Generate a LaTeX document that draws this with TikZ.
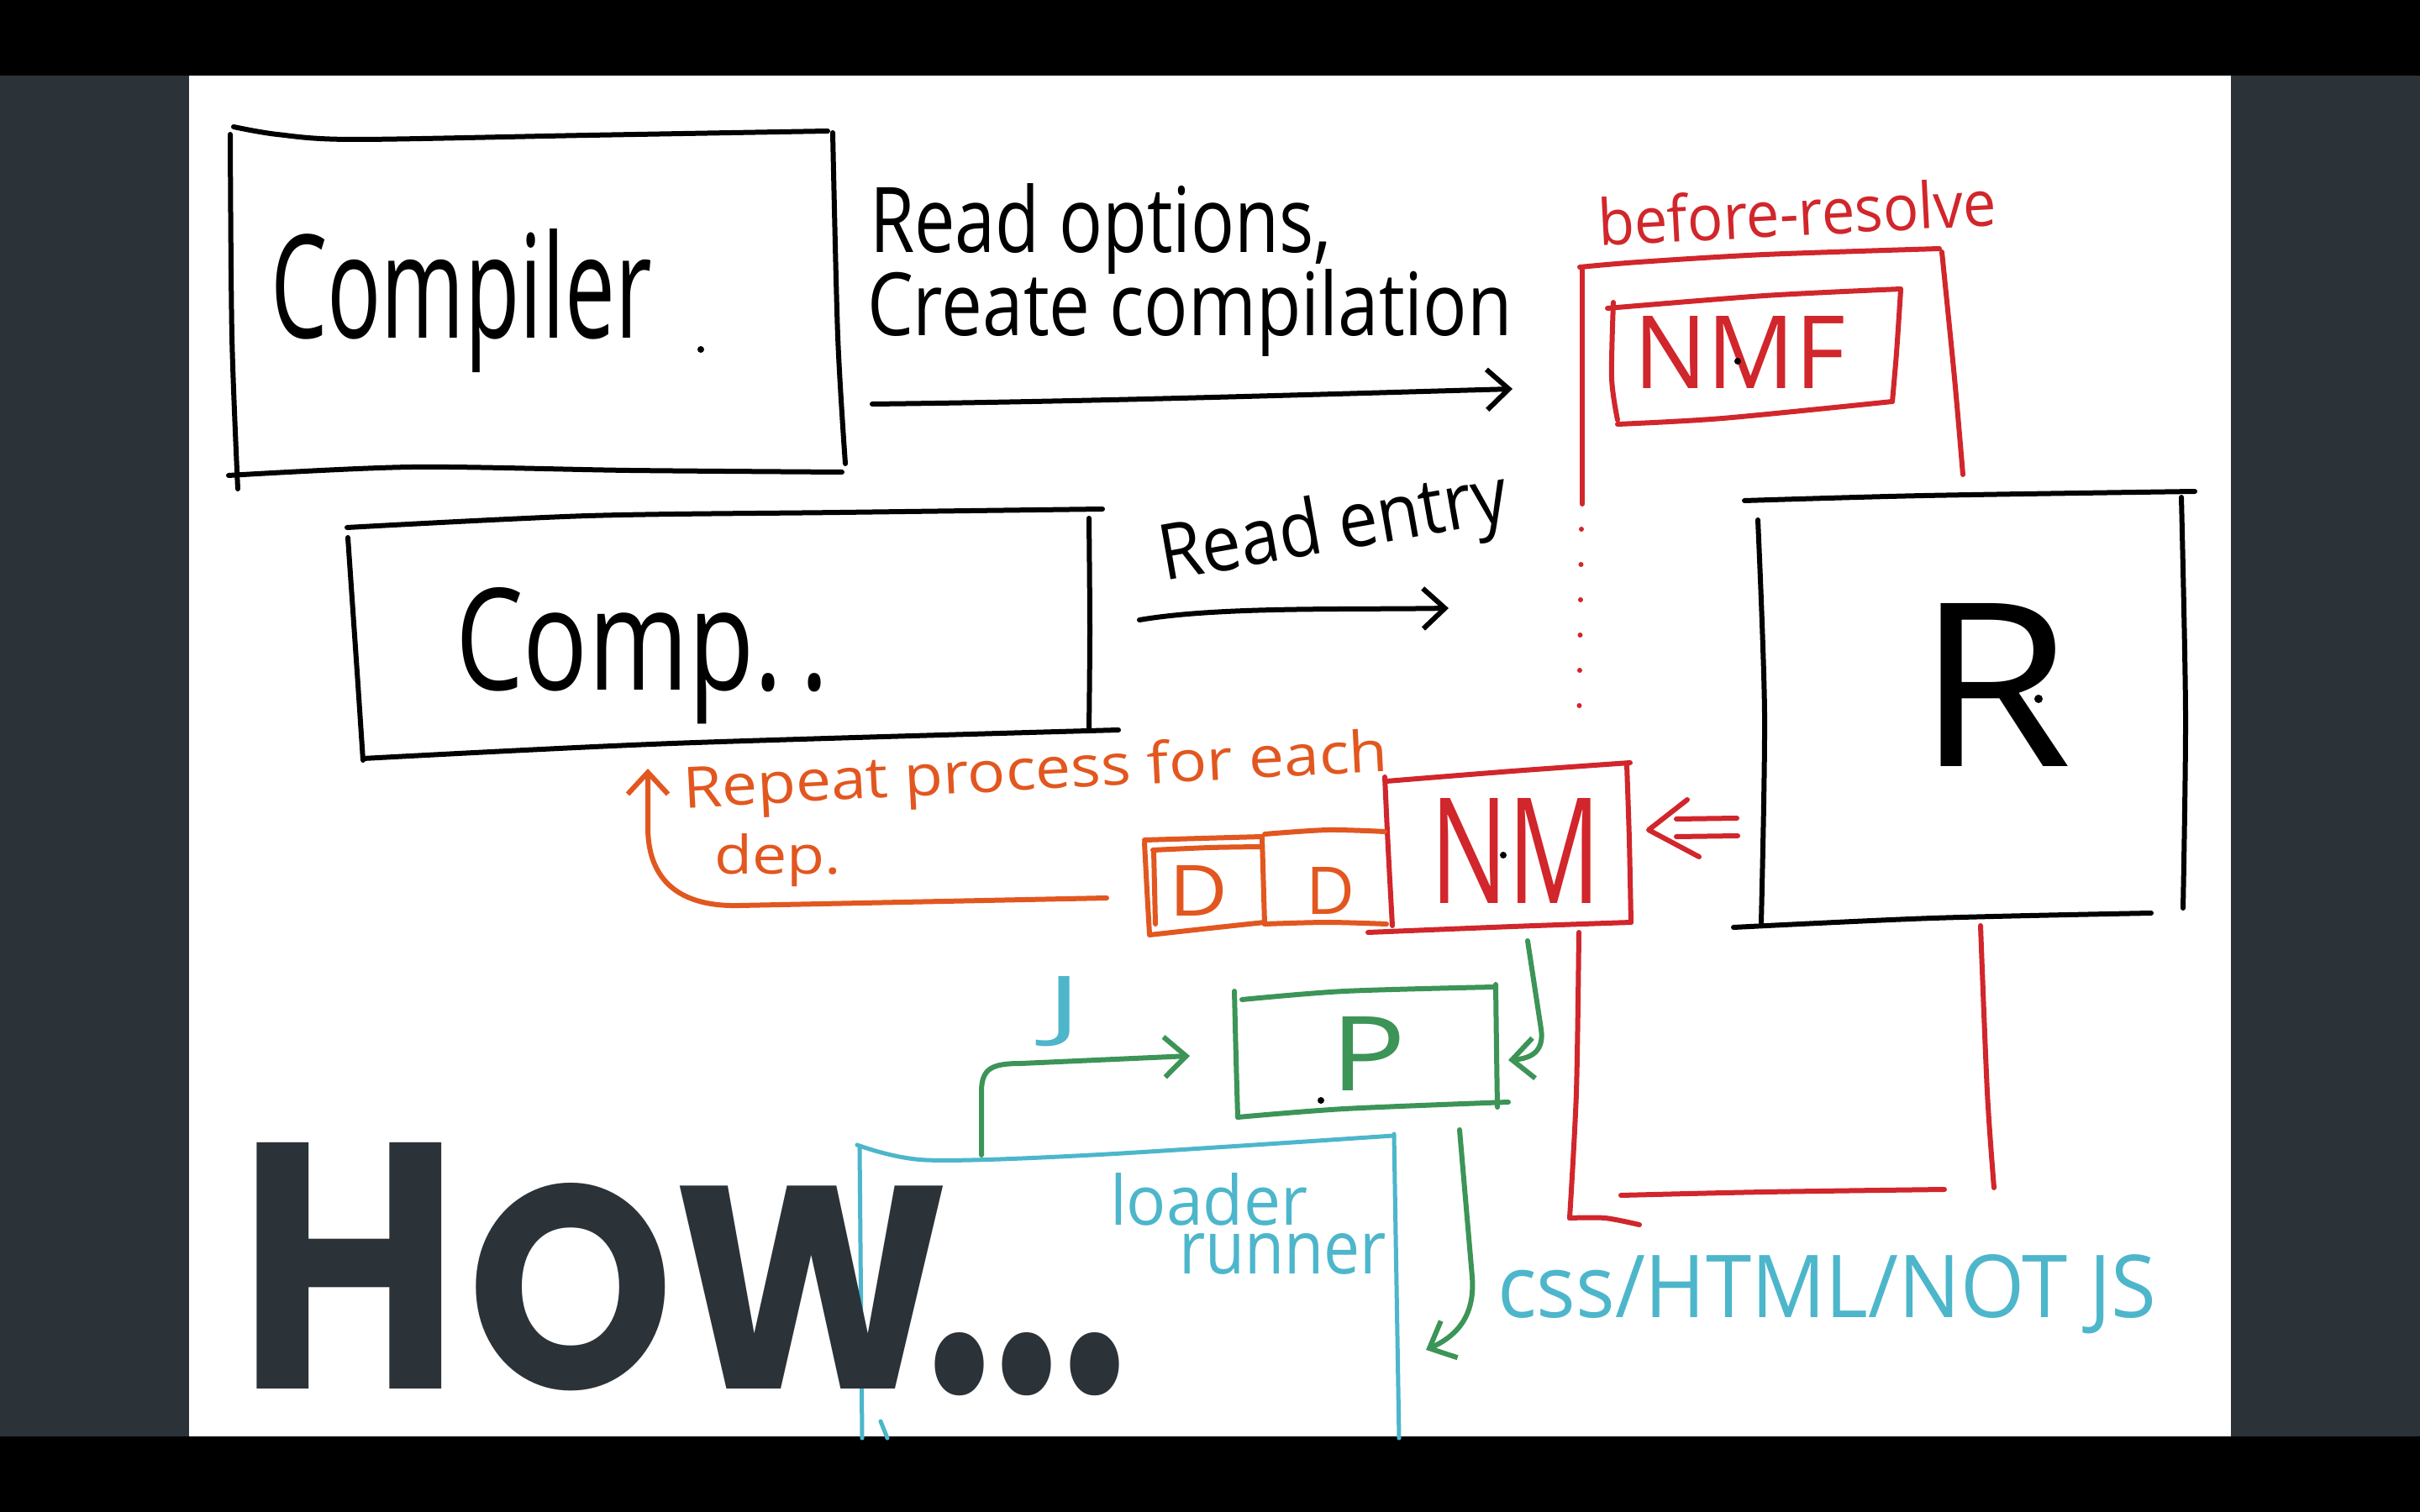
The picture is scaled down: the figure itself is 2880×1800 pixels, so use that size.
\documentclass[tikz,border=0pt]{standalone}
\usepackage{fontspec}
\setmainfont{Open Sans}
\newfontfamily\howfont{Poppins}
\usetikzlibrary{arrows.meta}
\newlength\pxu \setlength\pxu{0.1mm}
\newcommand\fitt[3]{\resizebox{#1\pxu}{#2\pxu}{#3}}
\definecolor{panel}{HTML}{2B3238}
\definecolor{redc}{HTML}{D1262B}
\definecolor{orc}{HTML}{E2571F}
\definecolor{grc}{HTML}{3C9457}
\definecolor{cyc}{HTML}{4DB6CB}
\begin{document}
\begin{tikzpicture}[x=0.1mm,y=-0.1mm,
  sk/.style={line width=0.6mm, line cap=round, line join=round},
  blk/.style={sk, draw=black},
  rd/.style={sk, draw=redc},
  og/.style={sk, draw=orc},
  gn/.style={sk, draw=grc},
  cy/.style={sk, draw=cyc, line width=0.5mm},
  barb/.style={-{Straight Barb[length=2.6mm,width=4.8mm]}},
  txt/.style={inner sep=0pt, outer sep=0pt, anchor=base west},
  pen/.style={fill=black}]
\useasboundingbox (0,0) rectangle (2880,1800);
% background
\fill[black] (0,0) rectangle (2880,1800);
\fill[panel] (0,90) rectangle (2880,1710);
\fill[white] (225,90) rectangle (2655,1710);

% ---------- Compiler box ----------
\draw[blk] plot[smooth] coordinates {(278,151) (330,160) (420,166) (700,161) (985,156)};
\draw[blk] plot[smooth] coordinates {(274,160) (276,400) (283,582)};
\draw[blk] plot[smooth] coordinates {(991,158) (997,400) (1006,552)};
\draw[blk] plot[smooth] coordinates {(272,566) (490,556) (750,560) (1002,562)};
\node[txt] (compiler) at (322,403) {\fitt{454}{130}{Compiler}};
\fill (834,416) circle (4);

% ---------- Read options ----------
\node[txt] (readopt) at (1035,301) {\fitt{550}{82}{Read options,}};
\node[txt] (createc) at (1032,400) {\fitt{768}{79}{Create compilation}};
\coordinate (a1s) at (1038,481);
\coordinate (a1e) at (1800,463);
\draw[blk,barb] (a1s) .. controls (1300,478) and (1550,470) .. (a1e);

% ---------- Comp box ----------
\draw[blk] plot[smooth] coordinates {(413,628) (700,614) (1000,610) (1312,606)};
\draw[blk] plot[smooth] coordinates {(414,640) (425,800) (432,905)};
\draw[blk] plot[smooth] coordinates {(1296,617) (1297,750) (1296,870)};
\draw[blk] plot[smooth] coordinates {(432,903) (800,885) (1331,869)};
\node[txt] (comp) at (542,821) {\fitt{445}{122}{Comp.\,.}};

% ---------- Read entry ----------
\node[txt, rotate=10] (readentry) at (1385,692) {\fitt{420}{70}{Read entry}};
\coordinate (a2s) at (1356,738);
\coordinate (a2e) at (1724,724);
\draw[blk,barb] (a2s) .. controls (1450,722) and (1600,726) .. (a2e);

% ---------- red frame (before-resolve) ----------
\node[txt, rotate=3, text=redc] (beforeres) at (1903,293) {\fitt{475}{58}{before-resolve}};
\draw[rd] plot[smooth] coordinates {(1880,318) (1950,312) (2100,303) (2308,296)};
\draw[rd] (1883,320) -- (1883,600);
\draw[rd, dash pattern=on 0pt off 4.2mm] (1882,630) -- (1879,880);
\draw[rd] plot[smooth] coordinates {(1879,1110) (1876,1300) (1868,1450)};
\draw[rd] plot[smooth] coordinates {(1868,1450) (1910,1450) (1951,1458)};
\draw[rd] plot[smooth] coordinates {(1929,1423) (2100,1419) (2314,1416)};
\draw[rd] plot[smooth] coordinates {(2311,300) (2326,450) (2336,565)};
\draw[rd] plot[smooth] coordinates {(2357,1102) (2365,1300) (2373,1414)};

% NMF box
\draw[rd] plot[smooth] coordinates {(1913,367) (2100,352) (2262,344)};
\draw[rd] plot[smooth] coordinates {(1920,360) (1918,450) (1925,500)};
\draw[rd] plot[smooth] coordinates {(2262,345) (2257,420) (2252,478)};
\draw[rd] plot[smooth] coordinates {(1925,505) (2050,498) (2252,478)};
\node[txt, text=redc] (nmf) at (1944,463) {\fitt{252}{86}{NMF}};
\fill (2068,430) circle (4);

% ---------- R box ----------
\draw[blk] plot[smooth] coordinates {(2076,596) (2290,590) (2612,585)};
\draw[blk] plot[smooth] coordinates {(2092,619) (2100,850) (2096,1098)};
\draw[blk] plot[smooth] coordinates {(2596,592) (2601,850) (2598,1081)};
\draw[blk] plot[smooth] coordinates {(2063,1104) (2300,1093) (2560,1087)};
\node[txt] (rnode) at (2280,912) {\fitt{186}{194}{R}};
\fill (2426,832) circle (5);

% ---------- NM box ----------
\draw[rd] plot[smooth] coordinates {(1650,930) (1800,918) (1940,908)};
\draw[rd] plot[smooth] coordinates {(1648,925) (1652,1010) (1657,1102)};
\draw[rd] plot[smooth] coordinates {(1936,910) (1939,1000) (1941,1098)};
\draw[rd] plot[smooth] coordinates {(1628,1110) (1800,1103) (1941,1098)};
\node[txt, text=redc] (nm) at (1702,1075) {\fitt{203}{125}{NM}};
\fill (1789,1018) circle (4);

% "<=" from R to NM
\coordinate (impS) at (2067,985);
\coordinate (impT) at (1962,988);
\draw[rd] (impS) ++(0,-11) -- ++(-72,1);
\draw[rd] (impS) ++(1,10) -- ++(-73,1);
\draw[rd] (2008,952) -- (impT) -- (2022,1020);

% ---------- D boxes ----------
\draw[og] plot[smooth] coordinates {(1362,1000) (1430,998) (1502,996)};
\draw[og] plot[smooth] coordinates {(1372,1012) (1440,1009) (1500,1008)};
\draw[og] plot[smooth] coordinates {(1362,1003) (1365,1060) (1368,1112)};
\draw[og] plot[smooth] coordinates {(1373,1012) (1375,1100)};
\draw[og] plot[smooth] coordinates {(1368,1113) (1440,1105) (1505,1098)};
\draw[og] (1502,997) -- (1505,1100);
\node[txt, text=orc] (d1) at (1391,1090) {\fitt{70}{60}{D}};
\draw[og] plot[smooth] coordinates {(1505,993) (1580,988) (1648,990)};
\draw[og] plot[smooth] coordinates {(1505,1100) (1580,1098) (1650,1100)};
\node[txt, text=orc] (d2) at (1554,1088) {\fitt{58}{56}{D}};

% ---------- Repeat process ----------
\node[txt, rotate=3, text=orc] (repeat) at (814,962) {\fitt{840}{52}{Repeat process for each}};
\node[txt, text=orc] (dep) at (850,1040) {\fitt{151}{48}{dep.}};
\coordinate (loopS) at (1317,1069);
\coordinate (loopE) at (771,915);
\draw[og,barb] (loopS) -- (880,1078) .. controls (800,1080) and (771,1040) .. (771,985) -- (loopE);

% ---------- P box ----------
\draw[gn] plot[smooth] coordinates {(1478,1190) (1600,1180) (1778,1175)};
\draw[gn] plot[smooth] coordinates {(1469,1180) (1471,1260) (1473,1330)};
\draw[gn] plot[smooth] coordinates {(1780,1172) (1781,1250) (1782,1318)};
\draw[gn] plot[smooth] coordinates {(1473,1330) (1600,1320) (1795,1312)};
\node[txt, text=grc] (pnode) at (1583,1298) {\fitt{90}{88}{P}};
\fill (1572,1310) circle (4);

% NM -> P
\coordinate (nmpS) at (1818,1120);
\coordinate (nmpE) at (1795,1262);
\draw[gn,barb] (nmpS) -- (1834,1225) .. controls (1838,1252) and (1822,1260) .. (nmpE);

% ---------- loader runner ----------
\draw[cy] plot[smooth] coordinates {(1020,1363) (1102,1381) (1300,1375) (1658,1352)};
\draw[cy] (1023,1365) -- (1026,1712);
\draw[cy] (1659,1350) -- (1665,1712);
\draw[cy] (1048,1692) -- (1056,1712);
\node[txt, text=cyc] (loader) at (1321,1458) {\fitt{235}{62}{loader}};
\node[txt, text=cyc] (runner) at (1403,1516) {\fitt{247}{48}{runner}};

% J arrow
\node[txt, text=cyc] (jnode) at (1245,1228) {\fitt{42}{66}{J}};
\coordinate (jS) at (1168,1375);
\coordinate (jE) at (1416,1257);
\draw[gn,barb] (jS) -- (1168,1300) .. controls (1168,1272) and (1180,1266) .. (1215,1266) -- (jE);

% P -> down
\coordinate (pdS) at (1737,1345);
\coordinate (pdE) at (1697,1607);
\draw[gn,barb] (pdS) -- (1752,1520) .. controls (1756,1570) and (1730,1592) .. (pdE);

\node[txt, text=cyc] (cssnode) at (1782,1568) {\fitt{784}{75}{css/HTML/NOT JS}};

% ---------- HOW... ----------
\node[txt, text=panel] (howH) at (283,1653) {\fitt{264}{293}{\howfont\bfseries H}};
\node[txt, text=panel] (howOW) at (556,1653) {\fitt{574}{245}{\howfont\bfseries OW}};
\node[txt, text=panel] (howDots) at (1101,1658) {\fitt{242}{72}{\howfont\bfseries ...}};
\end{tikzpicture}
\end{document}
